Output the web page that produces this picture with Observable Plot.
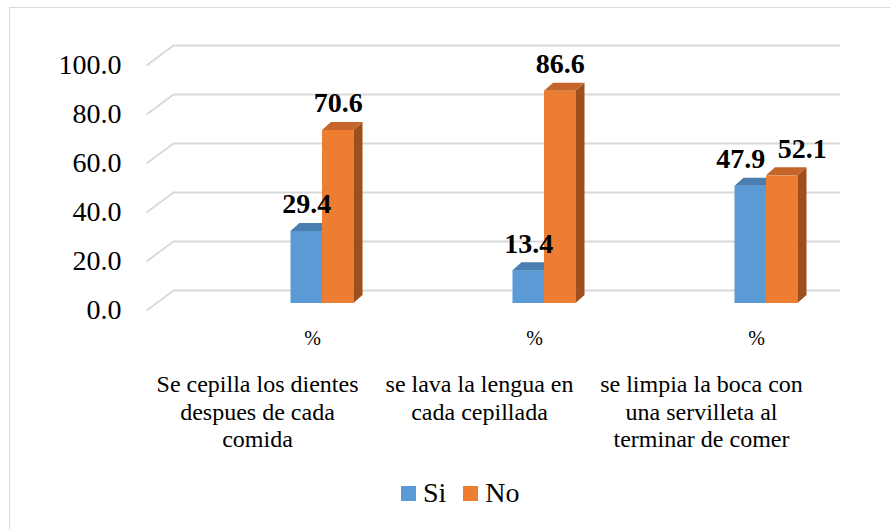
<!DOCTYPE html>
<html>
<head>
<meta charset="utf-8">
<script src="https://cdn.jsdelivr.net/npm/d3@7"></script>
<script src="https://cdn.jsdelivr.net/npm/@observablehq/plot@0.6"></script>
<style>
  html, body { margin: 0; padding: 0; background: #fff; }
  #wrap { position: relative; width: 890px; height: 529px; overflow: hidden; background: #fff; font-family: "Liberation Serif", serif; }
  #frame { position: absolute; left: 9px; top: 7px; width: 900px; height: 540px; border-left: 1px solid #d9d9d9; border-top: 1px solid #d9d9d9; }
  #chart { position: absolute; left: 0; top: 0; }
  #legend { position: absolute; left: 401px; top: 477px; display: flex; align-items: center; font-size: 28px; color: #000; font-family: "Liberation Serif", serif; }
  .sw { display: inline-flex; align-items: center; margin-right: 17px; }
  .sw i { display: inline-block; width: 15px; height: 15px; margin-right: 7px; }
</style>
</head>
<body>
<div id="wrap">
  <div id="frame"></div>
  <div id="chart"></div>
  <div id="legend"></div>
</div>
<script>
// ---- data ----
const categories = [
  "Se cepilla los dientes\ndespues de cada\ncomida",
  "se lava la lengua en\ncada cepillada",
  "se limpia la boca con\nuna servilleta al\nterminar de comer"
];
const subLabels = ["%", "%", "%"];
const series = ["Si", "No"];
const siValues = [29.4, 13.4, 47.9];
const noValues = [70.6, 86.6, 52.1];
const yTicks = [0, 20, 40, 60, 80, 100];

// ---- styles ----
const frontColors = ["#5b9bd5", "#ed7d31"];
const topColors = ["#4a7db0", "#c5652a"];
const sideColors = ["#41719c", "#9e4f1d"];
const gridColor = "#d9d9d9";
const font = '"Liberation Serif", serif';

// scale layout (px)
const xRange = [322, 766];
const yRange = [303, 58];
const pxX = (xRange[1] - xRange[0]) / 2;
const pxY = (yRange[0] - yRange[1]) / 100;
const barW = 31.5 / pxX;
const depthX = 9 / pxX;
const depthY = 8 / pxY;
const marginLeft = 173;
const marginRight = 50;

const valuesBySeries = [siValues, noValues];
const rows = categories.flatMap((c, i) => series.map((s, j) => {
  const x1 = i + (j === 0 ? -barW : 0);
  return {i, j, s, v: valuesBySeries[j][i], x1, x2: x1 + barW,
          close: Math.abs(siValues[i] - noValues[i]) < 10};
}));

function topPoly(r) {
  const k = r.s + r.i;
  return [
    {k, x: r.x1, y1: r.v, y2: r.v},
    {k, x: r.x1 + depthX, y1: r.v, y2: r.v + depthY},
    {k, x: r.x2, y1: r.v, y2: r.v + depthY},
    {k, x: r.x2 + depthX, y1: r.v + depthY, y2: r.v + depthY}
  ];
}
function sidePoly(r) {
  const k = r.s + r.i;
  return [
    {k, x: r.x2, y1: 0, y2: r.v},
    {k, x: r.x2 + depthX, y1: depthY, y2: r.v + depthY}
  ];
}

const barMarks = series.flatMap((s, j) => {
  const rs = rows.filter(r => r.j === j);
  return [
    Plot.rect(rs, {x1: "x1", x2: "x2", y1: 0, y2: "v", fill: frontColors[j]}),
    Plot.areaY(rs.flatMap(sidePoly), {x: "x", y1: "y1", y2: "y2", z: "k", fill: sideColors[j]}),
    Plot.areaY(rs.flatMap(topPoly), {x: "x", y1: "y1", y2: "y2", z: "k", fill: topColors[j]})
  ];
});

const labelOpts = {
  x: r => (r.x1 + r.x2) / 2, y: "v", dy: -27,
  text: r => r.v.toFixed(1), fontSize: 28, fontWeight: "bold", fill: "#000", fontFamily: font
};

const plot = Plot.plot({
  width: 890,
  height: 470,
  marginLeft,
  marginRight,
  marginTop: 0,
  marginBottom: 0,
  style: {fontFamily: font, background: "transparent", overflow: "visible"},
  x: {domain: [0, 2], range: xRange, axis: null},
  y: {domain: [0, 100], range: yRange, axis: null},
  marks: [
    // back wall grid
    Plot.ruleY(yTicks, {y: d => d, dy: -13, stroke: gridColor, strokeWidth: 2}),
    // side wall diagonals
    Plot.link(yTicks, {
      x1: (marginLeft - 27 - xRange[0]) / pxX,
      x2: (marginLeft - xRange[0]) / pxX,
      y1: d => d - 7 / pxY,
      y2: d => d + 13 / pxY,
      stroke: gridColor, strokeWidth: 2
    }),
    // y tick labels (front plane)
    Plot.axisY({ticks: yTicks, tickFormat: d => d.toFixed(1), tickSize: 0, tickPadding: 52, dy: 7,
      fontSize: 28, fill: "#000", label: null, anchor: "left", fontFamily: font}),
    ...barMarks,
    // value labels
    Plot.text(rows.filter(r => !r.close), labelOpts),
    Plot.text(rows.filter(r => r.close && r.j === 0), {...labelOpts, dx: -10}),
    Plot.text(rows.filter(r => r.close && r.j === 1), {...labelOpts, dx: 20}),
    // inner category labels
    Plot.text(subLabels, {x: (d, i) => i, y: 0, dx: -10, dy: 35, text: d => d, fontSize: 20, fill: "#000", fontFamily: font}),
    // outer category labels
    Plot.text(categories, {x: (d, i) => i, y: 0, dx: -65, dy: 69, text: d => d, lineAnchor: "top",
      lineHeight: 1.15, fontSize: 24, fill: "#000", fontFamily: font})
  ]
});
document.getElementById("chart").appendChild(plot);

// legend
const legend = document.getElementById("legend");
series.forEach((s, j) => {
  const span = document.createElement("span");
  span.className = "sw";
  const sw = document.createElement("i");
  sw.style.background = frontColors[j];
  span.appendChild(sw);
  span.appendChild(document.createTextNode(s));
  legend.appendChild(span);
});
</script>
</body>
</html>
